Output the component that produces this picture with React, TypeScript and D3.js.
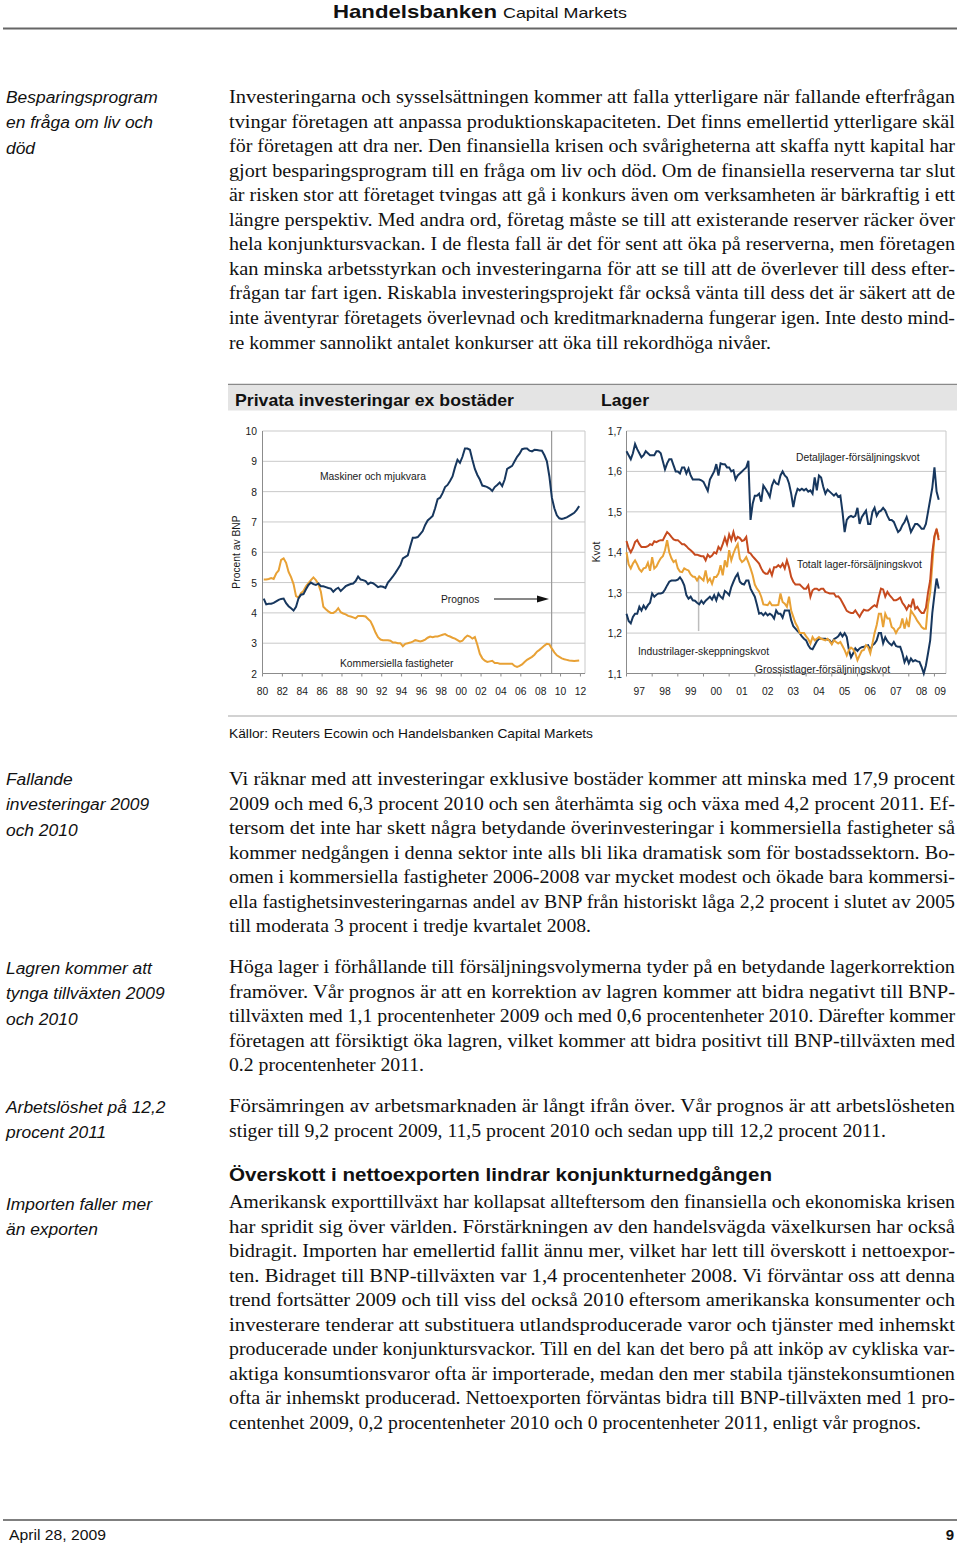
import React from "react";
import * as d3 from "d3";

// ---------- page text ----------
const headerBrand = "Handelsbanken";
const headerUnit = "Capital Markets";
const footerDate = "April 28, 2009";
const footerPage = "9";
const sourceNote = "Källor: Reuters Ecowin och Handelsbanken Capital Markets";
const sectionHeading = "Överskott i nettoexporten lindrar konjunkturnedgången";

const para1 = [
  "Investeringarna och sysselsättningen kommer att falla ytterligare när fallande efterfrågan",
  "tvingar företagen att anpassa produktionskapaciteten. Det finns emellertid ytterligare skäl",
  "för företagen att dra ner. Den finansiella krisen och svårigheterna att skaffa nytt kapital har",
  "gjort besparingsprogram till en fråga om liv och död. Om de finansiella reserverna tar slut",
  "är risken stor att företaget tvingas att gå i konkurs även om verksamheten är bärkraftig i ett",
  "längre perspektiv. Med andra ord, företag måste se till att existerande reserver räcker över",
  "hela konjunktursvackan. I de flesta fall är det för sent att öka på reserverna, men företagen",
  "kan minska arbetsstyrkan och investeringarna för att se till att de överlever till dess efter-",
  "frågan tar fart igen. Riskabla investeringsprojekt får också vänta till dess det är säkert att de",
  "inte äventyrar företagets överlevnad och kreditmarknaderna fungerar igen. Inte desto mind-",
  "re kommer sannolikt antalet konkurser att öka till rekordhöga nivåer.",
];
const para2 = [
  "Vi räknar med att investeringar exklusive bostäder kommer att minska med 17,9 procent",
  "2009 och med 6,3 procent 2010 och sen återhämta sig och växa med 4,2 procent 2011. Ef-",
  "tersom det inte har skett några betydande överinvesteringar i kommersiella fastigheter så",
  "kommer nedgången i denna sektor inte alls bli lika dramatisk som för bostadssektorn. Bo-",
  "omen i kommersiella fastigheter 2006-2008 var mycket modest och ökade bara kommersi-",
  "ella fastighetsinvesteringarnas andel av BNP från historiskt låga 2,2 procent i slutet av 2005",
  "till moderata 3 procent i tredje kvartalet 2008.",
];
const para3 = [
  "Höga lager i förhållande till försäljningsvolymerna tyder på en betydande lagerkorrektion",
  "framöver. Vår prognos är att en korrektion av lagren kommer att bidra negativt till BNP-",
  "tillväxten med 1,1 procentenheter 2009 och med 0,6 procentenheter 2010. Därefter kommer",
  "företagen att försiktigt öka lagren, vilket kommer att bidra positivt till BNP-tillväxten med",
  "0.2 procentenheter 2011.",
];
const para4 = [
  "Försämringen av arbetsmarknaden är långt ifrån över. Vår prognos är att arbetslösheten",
  "stiger till 9,2 procent 2009, 11,5 procent 2010 och sedan upp till 12,2 procent 2011.",
];
const para5 = [
  "Amerikansk exporttillväxt har kollapsat allteftersom den finansiella och ekonomiska krisen",
  "har spridit sig över världen. Förstärkningen av den handelsvägda växelkursen har också",
  "bidragit. Importen har emellertid fallit ännu mer, vilket har lett till överskott i nettoexpor-",
  "ten. Bidraget till BNP-tillväxten var 1,4 procentenheter 2008. Vi förväntar oss att denna",
  "trend fortsätter 2009 och till viss del också 2010 eftersom amerikanska konsumenter och",
  "investerare tenderar att substituera utlandsproducerade varor och tjänster med inhemskt",
  "producerade under konjunktursvackor. Till en del kan det bero på att inköp av cykliska var-",
  "aktiga konsumtionsvaror ofta är importerade, medan den mer stabila tjänstekonsumtionen",
  "ofta är inhemskt producerad. Nettoexporten förväntas bidra till BNP-tillväxten med 1 pro-",
  "centenhet 2009, 0,2 procentenheter 2010 och 0 procentenheter 2011, enligt vår prognos.",
];

const side1 = ["Besparingsprogram", "en fråga om liv och", "död"];
const side2 = ["Fallande", "investeringar 2009", "och 2010"];
const side3 = ["Lagren kommer att", "tynga tillväxten 2009", "och 2010"];
const side4 = ["Arbetslöshet på 12,2", "procent 2011"];
const side5 = ["Importen faller mer", "än exporten"];

// ---------- chart 1: Privata investeringar ex bostäder (% av BNP), quarterly from 1980 Q1 ----------
const invStartYear = 1980;
const maskinerOchMjukvara = [
  4.47, 4.28, 4.3, 4.3, 4.33, 4.38, 4.43, 4.46, 4.47, 4.32, 4.22, 4.15,
  4.08, 4.2, 4.48, 4.6, 4.62, 4.78, 4.92, 5.0, 4.95, 4.92, 4.97, 4.88,
  4.88, 4.85, 4.82, 4.8, 4.7, 4.78, 4.83, 4.72, 4.8, 4.88, 4.92, 4.95,
  4.97, 5.05, 5.2, 5.1, 5.08, 5.05, 4.95, 5.0, 4.98, 4.92, 4.85, 4.88,
  4.86, 4.82, 5.0, 5.1, 5.2, 5.32, 5.45, 5.58, 5.8, 5.85, 5.9, 6.2,
  6.48, 6.48, 6.5, 6.6, 6.7, 6.9, 7.05, 7.12, 7.2, 7.45, 7.75, 7.8,
  7.95, 8.15, 8.22, 8.35, 8.5, 8.8, 9.05, 8.95, 9.15, 9.42, 9.42, 9.38,
  9.05, 8.75, 8.55, 8.4, 8.2, 8.18, 8.15, 8.1, 8.02, 8.15, 8.22, 8.3,
  8.18, 8.4, 8.75, 8.8, 8.85, 9.0, 9.15, 9.25, 9.4, 9.42, 9.42, 9.35,
  9.33, 9.38, 9.37, 9.36, 9.35, 9.2, 9.0, 8.5, 7.8, 7.45, 7.22, 7.12,
  7.1, 7.12, 7.15, 7.2, 7.25, 7.3, 7.4, 7.52,
];
const kommersiellaFastigheter = [
  5.1, 5.1, 5.12, 5.15, 5.12, 5.3, 5.4, 5.75, 5.8, 5.65, 5.35, 5.18,
  4.95, 4.55, 4.5, 4.65, 4.72, 4.88, 4.98, 5.08, 5.17, 5.08, 4.95, 4.7,
  4.2, 4.12, 4.05, 4.0, 4.0, 4.05, 4.15, 4.02, 3.98, 3.95, 3.9, 3.88,
  3.85, 3.82, 3.9, 3.9, 3.9, 3.88, 3.8, 3.72, 3.55, 3.35, 3.2, 3.12,
  3.1, 3.1, 3.1, 3.08, 3.02, 3.02, 3.0, 3.0, 2.9, 2.98, 3.0, 3.02,
  3.05, 3.1, 3.08, 3.06, 3.08, 3.12, 3.18, 3.22, 3.2, 3.22, 3.22, 3.25,
  3.28, 3.3, 3.25, 3.22, 3.18, 3.15, 3.1, 3.05, 3.08, 3.18, 3.25, 3.22,
  3.15, 3.2, 2.95, 2.65, 2.5, 2.42, 2.38, 2.4, 2.42, 2.35, 2.35, 2.32,
  2.32, 2.32, 2.32, 2.32, 2.32, 2.25, 2.22, 2.25, 2.3, 2.38, 2.45, 2.5,
  2.55, 2.62, 2.72, 2.78, 2.85, 2.92, 2.98, 2.96, 2.82, 2.7, 2.6, 2.55,
  2.5, 2.47, 2.45, 2.43, 2.42, 2.41, 2.42, 2.43,
];
const invYTicks = [2, 3, 4, 5, 6, 7, 8, 9, 10];
const invXTicks = [1980, 1982, 1984, 1986, 1988, 1990, 1992, 1994, 1996, 1998, 2000, 2002, 2004, 2006, 2008, 2010, 2012];
const prognosStart = 2009.1;

// ---------- chart 2: Lager (kvot), monthly from Jan 1997 ----------
const lagerStartYear = 1997;
const detaljlager = [
  1.65, 1.64, 1.63, 1.645, 1.668, 1.655, 1.645, 1.635, 1.64, 1.65, 1.645, 1.64,
  1.64, 1.64, 1.65, 1.65, 1.645, 1.625, 1.605, 1.62, 1.63, 1.63, 1.615, 1.6,
  1.6, 1.595, 1.61, 1.61, 1.595, 1.607, 1.59, 1.58, 1.58, 1.58, 1.58, 1.578,
  1.574, 1.563, 1.552, 1.58, 1.59, 1.6, 1.618, 1.59, 1.62, 1.618, 1.618, 1.61,
  1.61, 1.6, 1.603, 1.58, 1.59, 1.595, 1.6, 1.605, 1.61, 1.626, 1.48, 1.52,
  1.54, 1.54, 1.545, 1.525, 1.565, 1.557, 1.548, 1.537, 1.565, 1.578, 1.57, 1.568,
  1.59, 1.6, 1.59, 1.585, 1.57, 1.545, 1.512, 1.54, 1.557, 1.553, 1.557, 1.553,
  1.557, 1.55, 1.553, 1.545, 1.585, 1.553, 1.59, 1.585, 1.562, 1.545, 1.555, 1.55,
  1.545, 1.54, 1.545, 1.537, 1.54, 1.5, 1.45, 1.48, 1.487, 1.49, 1.487, 1.49,
  1.51, 1.47, 1.487, 1.495, 1.503, 1.47, 1.47, 1.5, 1.51, 1.49, 1.5, 1.503,
  1.51, 1.503, 1.49, 1.48, 1.48, 1.475, 1.462, 1.45, 1.455, 1.467, 1.475, 1.487,
  1.47, 1.45, 1.46, 1.47, 1.47, 1.465, 1.458, 1.458, 1.47, 1.5, 1.53, 1.56,
  1.61, 1.55, 1.53,
];
const totaltLager = [
  1.428, 1.41, 1.4, 1.41, 1.425, 1.43, 1.42, 1.413, 1.413, 1.413, 1.415, 1.42,
  1.418, 1.427, 1.425, 1.428, 1.43, 1.43, 1.44, 1.45, 1.445, 1.438, 1.432, 1.43,
  1.43, 1.425, 1.42, 1.42, 1.415, 1.409, 1.405, 1.4, 1.394, 1.394, 1.392, 1.39,
  1.39, 1.38, 1.394, 1.388, 1.392, 1.4, 1.397, 1.413, 1.406, 1.42, 1.436, 1.42,
  1.444, 1.43, 1.45, 1.43, 1.438, 1.435, 1.428, 1.43, 1.438, 1.4, 1.397, 1.39,
  1.384, 1.378, 1.372, 1.36, 1.351, 1.347, 1.347, 1.357, 1.343, 1.363, 1.363, 1.368,
  1.363, 1.372, 1.36, 1.38, 1.363, 1.339, 1.327, 1.32, 1.32, 1.32, 1.315, 1.31,
  1.31, 1.318, 1.29, 1.306, 1.31, 1.31, 1.306, 1.31, 1.31, 1.302, 1.3, 1.298,
  1.298, 1.298, 1.29, 1.291, 1.285, 1.275, 1.265, 1.255, 1.252, 1.25, 1.25, 1.256,
  1.248, 1.24, 1.25, 1.258, 1.256, 1.256, 1.26, 1.265, 1.269, 1.265, 1.29, 1.31,
  1.308, 1.29, 1.302, 1.294, 1.288, 1.281, 1.281, 1.284, 1.288, 1.275, 1.268, 1.258,
  1.269, 1.265, 1.285, 1.26, 1.265, 1.256, 1.25, 1.25, 1.262, 1.3, 1.33, 1.4,
  1.44, 1.458, 1.43,
];
const grossistlager = [
  1.4, 1.37, 1.36, 1.372, 1.38, 1.37, 1.358, 1.352, 1.36, 1.362, 1.374, 1.354,
  1.388, 1.36, 1.365, 1.376, 1.385, 1.39, 1.405, 1.43, 1.4, 1.385, 1.376, 1.38,
  1.36, 1.352, 1.351, 1.36, 1.357, 1.355, 1.345, 1.34, 1.339, 1.33, 1.34, 1.335,
  1.33, 1.355, 1.327, 1.335, 1.322, 1.339, 1.339, 1.347, 1.368, 1.343, 1.38, 1.363,
  1.405, 1.38, 1.397, 1.41, 1.42, 1.384, 1.376, 1.38, 1.388, 1.375, 1.36, 1.343,
  1.32, 1.31, 1.303, 1.29, 1.271, 1.27, 1.269, 1.277, 1.269, 1.269, 1.269, 1.27,
  1.298, 1.277, 1.273, 1.265, 1.29, 1.256, 1.24, 1.225, 1.215, 1.2, 1.2, 1.2,
  1.192, 1.185, 1.174, 1.19, 1.182, 1.186, 1.19, 1.186, 1.184, 1.182, 1.186, 1.18,
  1.172, 1.182, 1.178, 1.174, 1.178, 1.168, 1.158, 1.145, 1.158, 1.164, 1.16, 1.15,
  1.133, 1.145, 1.156, 1.158, 1.17, 1.165, 1.15, 1.174, 1.2, 1.22, 1.248, 1.248,
  1.215, 1.248, 1.236, 1.236, 1.215, 1.211, 1.2, 1.21, 1.215, 1.236, 1.211, 1.232,
  1.215, 1.256, 1.248, 1.24, 1.23, 1.223, 1.215, 1.211, 1.211, 1.27, 1.3, 1.37,
  1.438, 1.454, 1.438,
];
const industrilager = [
  1.248, 1.23, 1.224, 1.24, 1.248, 1.248, 1.265, 1.256, 1.268, 1.26, 1.269, 1.275,
  1.298, 1.29, 1.295, 1.298, 1.298, 1.3, 1.308, 1.318, 1.327, 1.33, 1.33, 1.33,
  1.332, 1.338, 1.33, 1.318, 1.294, 1.285, 1.29, 1.281, 1.28, 1.275, 1.271, 1.28,
  1.273, 1.28, 1.285, 1.29, 1.283, 1.294, 1.281, 1.298, 1.29, 1.285, 1.304, 1.3,
  1.294, 1.314, 1.327, 1.339, 1.347, 1.327, 1.322, 1.32, 1.33, 1.33, 1.31, 1.3,
  1.29, 1.27, 1.248, 1.25, 1.244, 1.25, 1.244, 1.248, 1.244, 1.236, 1.256, 1.248,
  1.248, 1.238, 1.256, 1.256, 1.256, 1.232, 1.217, 1.211, 1.205, 1.2, 1.192, 1.186,
  1.182, 1.17, 1.162, 1.16, 1.17, 1.18, 1.186, 1.186, 1.186, 1.186, 1.184, 1.182,
  1.174, 1.185, 1.188, 1.192, 1.2, 1.192, 1.2, 1.19, 1.158, 1.14, 1.15, 1.162,
  1.156, 1.162, 1.165, 1.166, 1.168, 1.17, 1.158, 1.17, 1.174, 1.182, 1.2, 1.2,
  1.175, 1.19, 1.18, 1.174, 1.17, 1.178, 1.168, 1.166, 1.166, 1.15, 1.128, 1.14,
  1.125, 1.137, 1.13, 1.133, 1.13, 1.129, 1.116, 1.1, 1.12, 1.15, 1.182, 1.25,
  1.295, 1.335, 1.31,
];
const lagerYTicks = [1.1, 1.2, 1.3, 1.4, 1.5, 1.6, 1.7];
const lagerYears = [1997, 1998, 1999, 2000, 2001, 2002, 2003, 2004, 2005, 2006, 2007, 2008, 2009];
const lagerEnd = 2009.45;
const markerLine = { year: 1999.81, from: 1.335, to: 1.205 };

// ---------- layout ----------
const W = 960;
const H = 1546;
const textLeft = 229;
const textWidth = 726;
const lineStep = 24.55;
const sideStep = 25.3;

const sans = "'Liberation Sans', Arial, Helvetica, sans-serif";
const serif = "'Liberation Serif', 'Times New Roman', serif";

const navy = "#17375e";
const gold = "#e8a135";
const rust = "#c64a1e";
const grid = "#c9c9c9";
const axisGray = "#8c8c8c";
const chartFont = 10.3;

const plotTop = 431;
const plotBottom = 673.5;

const invX = d3.scaleLinear().domain([invStartYear, 2012.46]).range([262.5, 585]);
const invY = d3.scaleLinear().domain([2, 10]).range([plotBottom, plotTop]);
const lagX = d3.scaleLinear().domain([lagerStartYear, lagerEnd]).range([626.5, 946]);
const lagY = d3.scaleLinear().domain([1.1, 1.7]).range([plotBottom, plotTop]);

const quarterLine = d3
  .line<number>()
  .x((_, i) => invX(invStartYear + (i + 0.5) / 4))
  .y((d) => invY(d));
const monthLine = d3
  .line<number>()
  .x((_, i) => lagX(lagerStartYear + i / 12))
  .y((d) => lagY(d));

const commaFmt = (v: number) => d3.format(".1f")(v).replace(".", ",");

function Paragraph({ lines, top, lastWidth }: { lines: string[]; top: number; lastWidth: number }) {
  return (
    <g fontFamily={serif} fontSize={18} fill="#111">
      {lines.map((line, i) => (
        <text
          key={i}
          x={textLeft}
          y={top + i * lineStep}
          textLength={i === lines.length - 1 ? lastWidth : textWidth}
          lengthAdjust="spacingAndGlyphs"
        >
          {line}
        </text>
      ))}
    </g>
  );
}

function Sidebar({ lines, top }: { lines: string[]; top: number }) {
  return (
    <g fontFamily={sans} fontStyle="italic" fontSize={17.4} fill="#111">
      {lines.map((line, i) => (
        <text key={i} x={6} y={top + i * sideStep}>
          {line}
        </text>
      ))}
    </g>
  );
}

function InvestChart() {
  const [x0, x1] = invX.range();
  return (
    <g fontFamily={sans} fontSize={chartFont} fill="#1a1a1a">
      {invYTicks.map((t) => (
        <g key={t}>
          <line x1={x0} x2={x1} y1={invY(t)} y2={invY(t)} stroke={grid} strokeWidth={1} />
          <text x={257} y={invY(t) + 4} textAnchor="end">
            {t}
          </text>
        </g>
      ))}
      <line x1={x1} x2={x1} y1={plotTop} y2={plotBottom} stroke={grid} />
      <line x1={invX(prognosStart)} x2={invX(prognosStart)} y1={plotTop} y2={plotBottom} stroke="#9a9a9a" strokeWidth={1.2} />
      <line x1={x0} x2={x0} y1={plotTop} y2={plotBottom} stroke={axisGray} />
      <line x1={x0} x2={x1} y1={plotBottom} y2={plotBottom} stroke={axisGray} />
      {invXTicks.map((t) => (
        <g key={t}>
          <line x1={invX(t)} x2={invX(t)} y1={plotBottom} y2={plotBottom + 3} stroke={axisGray} />
          <text x={invX(t)} y={695} textAnchor="middle">
            {String(t).slice(2)}
          </text>
        </g>
      ))}
      <path d={quarterLine(kommersiellaFastigheter) ?? ""} fill="none" stroke={gold} strokeWidth={2} />
      <path d={quarterLine(maskinerOchMjukvara) ?? ""} fill="none" stroke={navy} strokeWidth={2} />
      <text x={320} y={480}>Maskiner och mjukvara</text>
      <text x={441} y={603}>Prognos</text>
      <line x1={494} x2={538} y1={599} y2={599} stroke="#111" strokeWidth={1} />
      <path d="M537,595.5 L549,599 L537,602.5 Z" fill="#111" />
      <text x={340} y={667}>Kommersiella fastigheter</text>
      <text transform="translate(240,552) rotate(-90)" textAnchor="middle">
        Procent av BNP
      </text>
    </g>
  );
}

function LagerChart() {
  const [x0, x1] = lagX.range();
  const labelPos = (yr: number) => (yr === 2009 ? lagX((2009 + lagerEnd) / 2) : lagX(yr + 0.5));
  return (
    <g fontFamily={sans} fontSize={chartFont} fill="#1a1a1a">
      {lagerYTicks.map((t) => (
        <g key={t}>
          <line x1={x0} x2={x1} y1={lagY(t)} y2={lagY(t)} stroke={grid} strokeWidth={1} />
          <text x={622} y={lagY(t) + 4} textAnchor="end">
            {commaFmt(t)}
          </text>
        </g>
      ))}
      <line x1={x1} x2={x1} y1={plotTop} y2={plotBottom} stroke={grid} />
      <line x1={x0} x2={x0} y1={plotTop} y2={plotBottom} stroke={axisGray} />
      <line x1={x0} x2={x1} y1={plotBottom} y2={plotBottom} stroke={axisGray} />
      {lagerYears.map((yr) => (
        <g key={yr}>
          <line x1={lagX(yr)} x2={lagX(yr)} y1={plotBottom} y2={plotBottom + 3} stroke={axisGray} />
          <text x={labelPos(yr)} y={695} textAnchor="middle">
            {String(yr).slice(2)}
          </text>
        </g>
      ))}
      <line
        x1={lagX(markerLine.year)}
        x2={lagX(markerLine.year)}
        y1={lagY(markerLine.from)}
        y2={lagY(markerLine.to)}
        stroke="#bdbdbd"
        strokeWidth={1.5}
      />
      <path d={monthLine(industrilager) ?? ""} fill="none" stroke={navy} strokeWidth={2} />
      <path d={monthLine(grossistlager) ?? ""} fill="none" stroke={gold} strokeWidth={2} />
      <path d={monthLine(totaltLager) ?? ""} fill="none" stroke={rust} strokeWidth={2} />
      <path d={monthLine(detaljlager) ?? ""} fill="none" stroke={navy} strokeWidth={2} />
      <text x={796} y={461}>Detaljlager-försäljningskvot</text>
      <text x={797} y={568}>Totalt lager-försäljningskvot</text>
      <text x={638} y={655}>Industrilager-skeppningskvot</text>
      <text x={755} y={673}>Grossistlager-försäljningskvot</text>
      <text transform="translate(600,552) rotate(-90)" textAnchor="middle">
        Kvot
      </text>
    </g>
  );
}

export default function App() {
  return (
    <svg
      width={W}
      height={H}
      viewBox={`0 0 ${W} ${H}`}
      style={{ position: "absolute", left: 0, top: 0, background: "#fff" }}
    >
      <rect width={W} height={H} fill="#fff" />
      {/* header */}
      <g fontFamily={sans} fill="#111">
        <text x={333} y={18} fontSize={19} fontWeight="bold" textLength={164} lengthAdjust="spacingAndGlyphs">
          {headerBrand}
        </text>
        <text x={503} y={18} fontSize={14.5} textLength={124} lengthAdjust="spacingAndGlyphs">
          {headerUnit}
        </text>
      </g>
      <line x1={3} x2={957} y1={28.5} y2={28.5} stroke="#666" strokeWidth={2} />

      <Sidebar lines={side1} top={103} />
      <Paragraph lines={para1} top={103} lastWidth={542} />

      {/* chart block */}
      <line x1={228} x2={957} y1={384.5} y2={384.5} stroke="#8a8a8a" strokeWidth={1.5} />
      <rect x={228} y={385.5} width={729} height={25} fill="#e4e4e4" />
      <g fontFamily={sans} fontWeight="bold" fontSize={17} fill="#111">
        <text x={235} y={406} textLength={279} lengthAdjust="spacingAndGlyphs">
          Privata investeringar ex bostäder
        </text>
        <text x={601} y={406} textLength={48} lengthAdjust="spacingAndGlyphs">
          Lager
        </text>
      </g>
      <InvestChart />
      <LagerChart />
      <line x1={228} x2={957} y1={716} y2={716} stroke="#a5a5a5" strokeWidth={1.2} />
      <text x={229} y={738} fontFamily={sans} fontSize={13} fill="#111" textLength={364} lengthAdjust="spacingAndGlyphs">
        {sourceNote}
      </text>

      <Sidebar lines={side2} top={785} />
      <Paragraph lines={para2} top={785} lastWidth={362} />

      <Sidebar lines={side3} top={974} />
      <Paragraph lines={para3} top={973} lastWidth={195} />

      <Sidebar lines={side4} top={1113} />
      <Paragraph lines={para4} top={1112} lastWidth={657} />

      <text x={229} y={1181} fontFamily={sans} fontWeight="bold" fontSize={19} fill="#111" textLength={543} lengthAdjust="spacingAndGlyphs">
        {sectionHeading}
      </text>
      <Sidebar lines={side5} top={1210} />
      <Paragraph lines={para5} top={1208} lastWidth={692} />

      {/* footer */}
      <line x1={3} x2={957} y1={1520} y2={1520} stroke="#555" strokeWidth={1.5} />
      <text x={9} y={1540} fontFamily={sans} fontSize={15} fill="#111" textLength={97} lengthAdjust="spacingAndGlyphs">
        {footerDate}
      </text>
      <text x={954} y={1540} fontFamily={sans} fontSize={15} fontWeight="bold" fill="#111" textAnchor="end">
        {footerPage}
      </text>
    </svg>
  );
}
